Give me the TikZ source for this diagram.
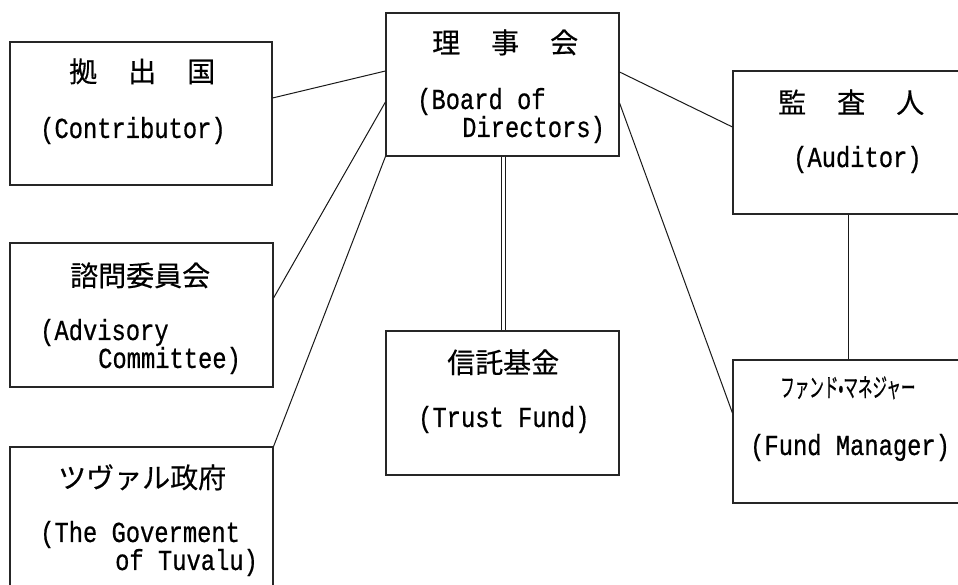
\documentclass[tikz,border=0pt]{standalone}
\usepackage{fontspec}
\newfontfamily\jp[FakeBold=0.4]{Noto Sans CJK JP}
\newfontfamily\jpn[FakeStretch=0.56,FakeBold=0.4]{Noto Sans CJK JP}
\newfontfamily\en[FakeStretch=0.82,FakeBold=0.6]{Liberation Mono}
\usetikzlibrary{calc}
\tikzset{
  box/.style={draw=black!85, line width=1.1pt, inner sep=0pt, rectangle},
  link/.style={draw=black!90, line width=1pt},
  jpt/.style={anchor=base west, inner sep=0pt, font={\jp\fontsize{28}{30}\selectfont}},
  jps/.style={anchor=base west, inner sep=0pt, font={\jpn\fontsize{26}{28}\selectfont}},
  ent/.style={anchor=base west, inner sep=0pt, font={\en\fontsize{29}{31}\selectfont}}
}
\begin{document}
\begin{tikzpicture}[x=1pt,y=1pt]
\clip (0,0) rectangle (958,585);
\fill[white] (0,0) rectangle (958,585);
% boxes
\node[box, minimum width=262pt, minimum height=143pt] (contrib) at (141,471.5) {};
\node[box, minimum width=233pt, minimum height=143pt] (board) at (502.5,500.5) {};
\node[box, minimum width=247pt, minimum height=143pt] (auditor) at (856.5,442.5) {};
\node[box, minimum width=263pt, minimum height=144pt] (advisory) at (141.5,270) {};
\node[box, minimum width=263pt, minimum height=173pt] (gov) at (141.5,51.5) {};
\node[box, minimum width=233pt, minimum height=144pt] (trust) at (502.5,182) {};
\node[box, minimum width=247pt, minimum height=143pt] (fm) at (856.5,153.5) {};
% connectors
\draw[link] ([yshift=15.5pt]contrib.east) -- ([yshift=13.5pt]board.west);
\draw[link] ([yshift=17pt]advisory.east) -- ([yshift=-17.5pt]board.west);
\draw[link] (gov.north east) -- (board.south west);
\draw[link] ([yshift=12.5pt]board.east) -- ([yshift=15.5pt]auditor.west);
\draw[link] ([yshift=-18.5pt]board.east) -- ([yshift=18.5pt]fm.west);
\draw[link] ([xshift=-8.5pt]auditor.south) -- ([xshift=-8.5pt]fm.north);
\draw[draw=black!90, line width=0.9pt, double=white, double distance=2.6pt] ([xshift=1pt]board.south) -- ([xshift=1pt]trust.north);
% texts
\node[jpt] (t1) at (69,503) {拠\hspace{31pt}出\hspace{31pt}国};
\node[ent] (t2) at (40,447) {(Contributor)};
\node[jpt] (t3) at (432,532) {理\hspace{31pt}事\hspace{31pt}会};
\node[ent] (t4) at (417,476) {(Board of};
\node[ent] (t5) at (462,448) {Directors)};
\node[jpt] (t6) at (778,472) {監\hspace{31pt}査\hspace{31pt}人};
\node[ent] (t7) at (793,418) {(Auditor)};
\node[jpt] (t8) at (70,299) {諮問委員会};
\node[ent] (t9) at (40,245) {(Advisory};
\node[ent] (t10) at (98,217) {Committee)};
\node[jpt] (t11) at (58,97) {ツヴァル政府};
\node[ent] (t12) at (40,43) {(The Goverment};
\node[ent] (t13) at (115,15) {of Tuvalu)};
\node[jpt] (t14) at (447,212) {信託基金};
\node[ent] (t15) at (418,158) {(Trust Fund)};
\node[jps] (t16) at (780,188) {ファンド•マネジャー};
\node[ent] (t17) at (750,130) {(Fund Manager)};
\end{tikzpicture}
\end{document}
